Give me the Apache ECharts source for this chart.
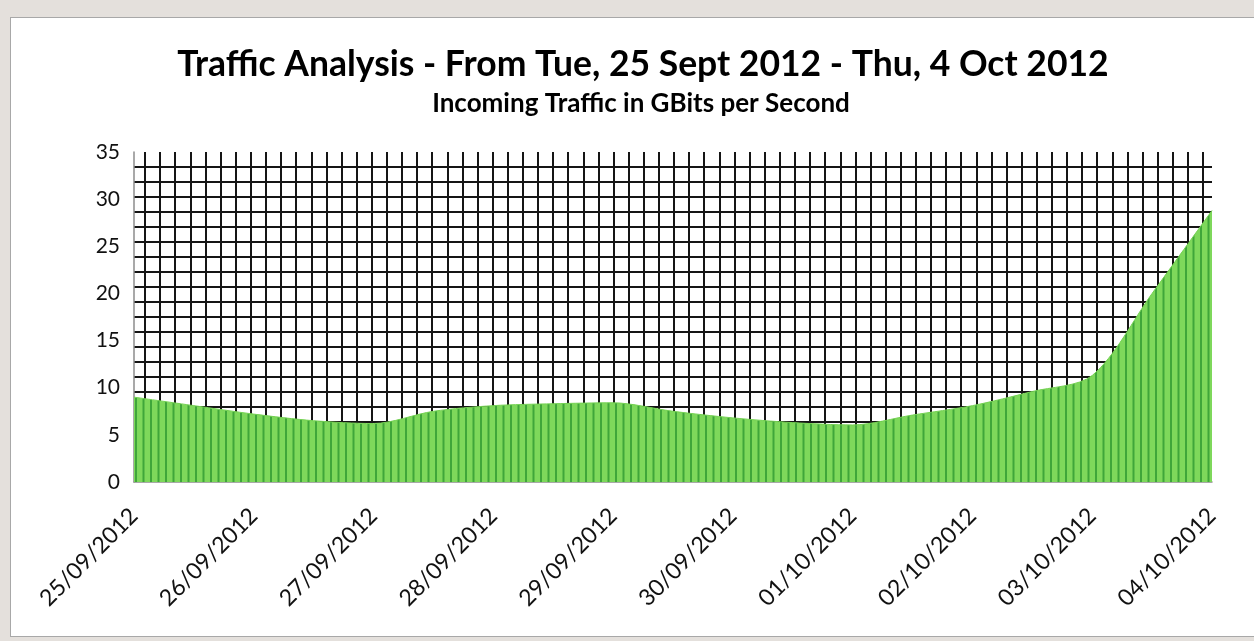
<!DOCTYPE html>
<html>
<head>
<meta charset="utf-8">
<script src="https://cdn.jsdelivr.net/npm/echarts@6/dist/echarts.min.js"></script>
<style>
  html, body { margin: 0; padding: 0; background: #e4e0dc; }
  #frame { position: absolute; left: 10px; top: 17px; width: 1250px; height: 618px; background: #fff; border: 1px solid #a8a8a8; }
  #chart { position: absolute; left: 0; top: 0; width: 1254px; height: 641px; }
</style>
</head>
<body>
<div id="frame"></div>
<div id="chart"></div>
<script>
// half-day samples, 25/09/2012 to 04/10/2012
const times = [
  '25/09/2012 00:00', '25/09/2012 12:00',
  '26/09/2012 00:00', '26/09/2012 12:00',
  '27/09/2012 00:00', '27/09/2012 12:00',
  '28/09/2012 00:00', '28/09/2012 12:00',
  '29/09/2012 00:00', '29/09/2012 12:00',
  '30/09/2012 00:00', '30/09/2012 12:00',
  '01/10/2012 00:00', '01/10/2012 12:00',
  '02/10/2012 00:00', '02/10/2012 12:00',
  '03/10/2012 00:00', '03/10/2012 12:00',
  '04/10/2012 00:00'
]
// incoming traffic, GBits/s
const traffic = [
  9.0, 8.1, 7.2, 6.5, 6.2, 7.5, 8.1, 8.3, 8.4, 7.5,
  6.8, 6.3, 6.05, 7.1, 8.1, 9.6, 11.3, 20.0, 28.8
]

const title = 'Traffic Analysis - From Tue, 25 Sept 2012 - Thu, 4 Oct 2012'
const subtitle = 'Incoming Traffic in GBits per Second'

// vertical stripe fill like the excel pattern
function stripes() {
  const c = document.createElement('canvas')
  c.width = 15
  c.height = 4
  const g = c.getContext('2d')
  g.fillStyle = '#7ed85b'
  g.fillRect(0, 0, 15, 4)
  g.fillStyle = '#3fa63a'
  g.fillRect(0, 0, 2, 4)
  g.fillRect(7.5, 0, 2, 4)
  return c
}

const chart = echarts.init(document.getElementById('chart'))

const font = 'Lato, "Open Sans", sans-serif'
const hidden = { axisLine: { show: false }, axisTick: { show: false }, axisLabel: { show: false } }
const gridLine = { show: true, lineStyle: { color: '#151515', width: 2 } }

chart.setOption({
  backgroundColor: 'transparent',
  animation: false,
  title: [
    {
      text: title,
      left: 638,
      top: 42,
      textAlign: 'center',
      textStyle: { fontFamily: font, fontWeight: 'bold', fontSize: 35.5, color: '#000' },
    },
    {
      text: subtitle,
      left: 636,
      top: 86,
      textAlign: 'center',
      textStyle: { fontFamily: font, fontWeight: 'bold', fontSize: 26, color: '#000' },
    },
  ],
  grid: [
    { left: 134, right: 42, top: 152, bottom: 159 },
    { left: 145, right: 51, top: 152, bottom: 159 },
  ],
  xAxis: [
    {
      type: 'category',
      gridIndex: 0,
      data: times,
      boundaryGap: false,
      axisLine: { lineStyle: { color: '#8c8c8c', width: 1.5 } },
      axisTick: { show: false },
      splitLine: { show: false },
      axisLabel: {
        interval: 1,
        rotate: 45,
        margin: 30,
        fontSize: 23,
        fontFamily: font,
        color: '#111',
        formatter: (v) => v.slice(0, 10),
      },
    },
    {
      type: 'value',
      gridIndex: 1,
      min: 0,
      max: 70,
      interval: 1,
      ...hidden,
      splitLine: gridLine,
    },
  ],
  yAxis: [
    {
      type: 'value',
      gridIndex: 0,
      min: 0,
      max: 35,
      interval: 5,
      axisLine: { show: true, lineStyle: { color: '#8c8c8c', width: 1.5 } },
      axisTick: { show: false },
      splitLine: { show: false },
      axisLabel: { fontSize: 21, fontFamily: font, color: '#111', margin: 14 },
      z: 3,
    },
    {
      type: 'value',
      gridIndex: 0,
      min: 0,
      max: 22,
      interval: 1,
      position: 'right',
      ...hidden,
      splitLine: { ...gridLine, showMinLine: false, showMaxLine: false },
    },
    { type: 'value', gridIndex: 1, min: 0, max: 1, show: false },
  ],
  series: [
    {
      type: 'line',
      xAxisIndex: 0,
      yAxisIndex: 0,
      data: traffic,
      smooth: 0.3,
      symbol: 'none',
      lineStyle: { color: '#74d152', width: 1 },
      areaStyle: { color: { image: stripes(), repeat: 'repeat' }, opacity: 1 },
      z: 5,
    },
  ],
})
</script>
</body>
</html>
